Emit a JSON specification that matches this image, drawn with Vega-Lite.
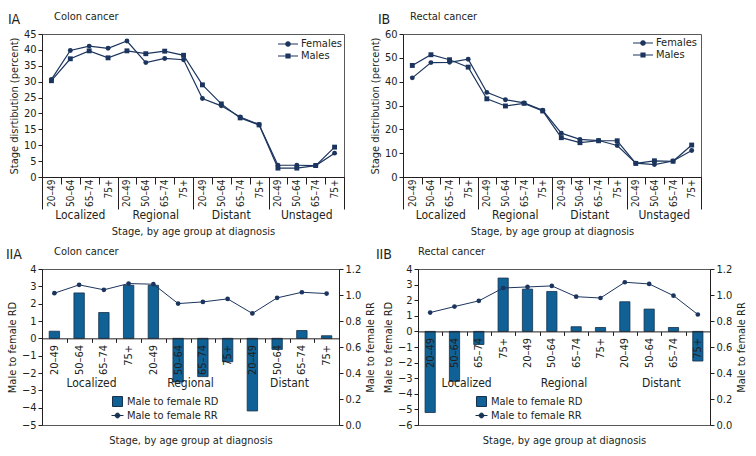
{
  "$schema": "https://vega.github.io/schema/vega-lite/v6.json",
  "padding": {"left": 5, "top": 10, "right": 5, "bottom": 5},
  "background": "white",
  "datasets": {
    "colon": [
      {"stage": "Localized", "cat": "Localized|20–49", "sex": "Females", "pct": 30.7},
      {"stage": "Localized", "cat": "Localized|20–49", "sex": "Males", "pct": 30.3},
      {"stage": "Localized", "cat": "Localized|50–64", "sex": "Females", "pct": 39.8},
      {"stage": "Localized", "cat": "Localized|50–64", "sex": "Males", "pct": 37.2},
      {"stage": "Localized", "cat": "Localized|65–74", "sex": "Females", "pct": 41.2},
      {"stage": "Localized", "cat": "Localized|65–74", "sex": "Males", "pct": 39.7},
      {"stage": "Localized", "cat": "Localized|75+", "sex": "Females", "pct": 40.5},
      {"stage": "Localized", "cat": "Localized|75+", "sex": "Males", "pct": 37.5},
      {"stage": "Regional", "cat": "Regional|20–49", "sex": "Females", "pct": 42.8},
      {"stage": "Regional", "cat": "Regional|20–49", "sex": "Males", "pct": 39.7},
      {"stage": "Regional", "cat": "Regional|50–64", "sex": "Females", "pct": 36.0},
      {"stage": "Regional", "cat": "Regional|50–64", "sex": "Males", "pct": 38.8},
      {"stage": "Regional", "cat": "Regional|65–74", "sex": "Females", "pct": 37.3},
      {"stage": "Regional", "cat": "Regional|65–74", "sex": "Males", "pct": 39.6},
      {"stage": "Regional", "cat": "Regional|75+", "sex": "Females", "pct": 36.9},
      {"stage": "Regional", "cat": "Regional|75+", "sex": "Males", "pct": 38.3},
      {"stage": "Distant", "cat": "Distant|20–49", "sex": "Females", "pct": 24.7},
      {"stage": "Distant", "cat": "Distant|20–49", "sex": "Males", "pct": 29.0},
      {"stage": "Distant", "cat": "Distant|50–64", "sex": "Females", "pct": 22.4},
      {"stage": "Distant", "cat": "Distant|50–64", "sex": "Males", "pct": 23.0},
      {"stage": "Distant", "cat": "Distant|65–74", "sex": "Females", "pct": 18.9},
      {"stage": "Distant", "cat": "Distant|65–74", "sex": "Males", "pct": 18.6},
      {"stage": "Distant", "cat": "Distant|75+", "sex": "Females", "pct": 16.5},
      {"stage": "Distant", "cat": "Distant|75+", "sex": "Males", "pct": 16.4},
      {"stage": "Unstaged", "cat": "Unstaged|20–49", "sex": "Females", "pct": 3.7},
      {"stage": "Unstaged", "cat": "Unstaged|20–49", "sex": "Males", "pct": 2.8},
      {"stage": "Unstaged", "cat": "Unstaged|50–64", "sex": "Females", "pct": 3.7},
      {"stage": "Unstaged", "cat": "Unstaged|50–64", "sex": "Males", "pct": 2.8},
      {"stage": "Unstaged", "cat": "Unstaged|65–74", "sex": "Females", "pct": 3.6},
      {"stage": "Unstaged", "cat": "Unstaged|65–74", "sex": "Males", "pct": 3.6},
      {"stage": "Unstaged", "cat": "Unstaged|75+", "sex": "Females", "pct": 7.5},
      {"stage": "Unstaged", "cat": "Unstaged|75+", "sex": "Males", "pct": 9.4}
    ],
    "rectal": [
      {"stage": "Localized", "cat": "Localized|20–49", "sex": "Females", "pct": 41.6},
      {"stage": "Localized", "cat": "Localized|20–49", "sex": "Males", "pct": 46.8},
      {"stage": "Localized", "cat": "Localized|50–64", "sex": "Females", "pct": 48.0},
      {"stage": "Localized", "cat": "Localized|50–64", "sex": "Males", "pct": 51.3},
      {"stage": "Localized", "cat": "Localized|65–74", "sex": "Females", "pct": 48.1},
      {"stage": "Localized", "cat": "Localized|65–74", "sex": "Males", "pct": 49.2},
      {"stage": "Localized", "cat": "Localized|75+", "sex": "Females", "pct": 49.4},
      {"stage": "Localized", "cat": "Localized|75+", "sex": "Males", "pct": 46.1},
      {"stage": "Regional", "cat": "Regional|20–49", "sex": "Females", "pct": 35.5},
      {"stage": "Regional", "cat": "Regional|20–49", "sex": "Males", "pct": 32.8},
      {"stage": "Regional", "cat": "Regional|50–64", "sex": "Females", "pct": 32.4},
      {"stage": "Regional", "cat": "Regional|50–64", "sex": "Males", "pct": 29.8},
      {"stage": "Regional", "cat": "Regional|65–74", "sex": "Females", "pct": 31.1},
      {"stage": "Regional", "cat": "Regional|65–74", "sex": "Males", "pct": 30.9},
      {"stage": "Regional", "cat": "Regional|75+", "sex": "Females", "pct": 28.0},
      {"stage": "Regional", "cat": "Regional|75+", "sex": "Males", "pct": 27.7},
      {"stage": "Distant", "cat": "Distant|20–49", "sex": "Females", "pct": 18.4},
      {"stage": "Distant", "cat": "Distant|20–49", "sex": "Males", "pct": 16.5},
      {"stage": "Distant", "cat": "Distant|50–64", "sex": "Females", "pct": 15.8},
      {"stage": "Distant", "cat": "Distant|50–64", "sex": "Males", "pct": 14.4},
      {"stage": "Distant", "cat": "Distant|65–74", "sex": "Females", "pct": 15.3},
      {"stage": "Distant", "cat": "Distant|65–74", "sex": "Males", "pct": 15.2},
      {"stage": "Distant", "cat": "Distant|75+", "sex": "Females", "pct": 13.2},
      {"stage": "Distant", "cat": "Distant|75+", "sex": "Males", "pct": 15.2},
      {"stage": "Unstaged", "cat": "Unstaged|20–49", "sex": "Females", "pct": 5.8},
      {"stage": "Unstaged", "cat": "Unstaged|20–49", "sex": "Males", "pct": 5.7},
      {"stage": "Unstaged", "cat": "Unstaged|50–64", "sex": "Females", "pct": 5.2},
      {"stage": "Unstaged", "cat": "Unstaged|50–64", "sex": "Males", "pct": 6.8},
      {"stage": "Unstaged", "cat": "Unstaged|65–74", "sex": "Females", "pct": 6.7},
      {"stage": "Unstaged", "cat": "Unstaged|65–74", "sex": "Males", "pct": 6.6},
      {"stage": "Unstaged", "cat": "Unstaged|75+", "sex": "Females", "pct": 11.1},
      {"stage": "Unstaged", "cat": "Unstaged|75+", "sex": "Males", "pct": 13.4}
    ],
    "colonRR": [
      {"stage": "Localized", "cat": "Localized|20–49", "RD": 0.41, "RR": 1.014},
      {"stage": "Localized", "cat": "Localized|50–64", "RD": 2.62, "RR": 1.078},
      {"stage": "Localized", "cat": "Localized|65–74", "RD": 1.49, "RR": 1.04},
      {"stage": "Localized", "cat": "Localized|75+", "RD": 3.06, "RR": 1.088},
      {"stage": "Regional", "cat": "Regional|20–49", "RD": 3.06, "RR": 1.083},
      {"stage": "Regional", "cat": "Regional|50–64", "RD": -2.52, "RR": 0.934},
      {"stage": "Regional", "cat": "Regional|65–74", "RD": -2.21, "RR": 0.947},
      {"stage": "Regional", "cat": "Regional|75+", "RD": -1.35, "RR": 0.97},
      {"stage": "Distant", "cat": "Distant|20–49", "RD": -4.19, "RR": 0.858},
      {"stage": "Distant", "cat": "Distant|50–64", "RD": -0.64, "RR": 0.978},
      {"stage": "Distant", "cat": "Distant|65–74", "RD": 0.45, "RR": 1.021},
      {"stage": "Distant", "cat": "Distant|75+", "RD": 0.15, "RR": 1.011}
    ],
    "rectalRR": [
      {"stage": "Localized", "cat": "Localized|20–49", "RD": -5.2, "RR": 0.865},
      {"stage": "Localized", "cat": "Localized|50–64", "RD": -3.2, "RR": 0.911},
      {"stage": "Localized", "cat": "Localized|65–74", "RD": -0.84, "RR": 0.955},
      {"stage": "Localized", "cat": "Localized|75+", "RD": 3.42, "RR": 1.054},
      {"stage": "Regional", "cat": "Regional|20–49", "RD": 2.71, "RR": 1.062},
      {"stage": "Regional", "cat": "Regional|50–64", "RD": 2.56, "RR": 1.07},
      {"stage": "Regional", "cat": "Regional|65–74", "RD": 0.3, "RR": 0.987},
      {"stage": "Regional", "cat": "Regional|75+", "RD": 0.25, "RR": 0.977},
      {"stage": "Distant", "cat": "Distant|20–49", "RD": 1.9, "RR": 1.098},
      {"stage": "Distant", "cat": "Distant|50–64", "RD": 1.43, "RR": 1.085},
      {"stage": "Distant", "cat": "Distant|65–74", "RD": 0.25, "RR": 0.995},
      {"stage": "Distant", "cat": "Distant|75+", "RD": -1.9, "RR": 0.85}
    ],
    "rdrrLegend": [
      {"series": "Male to female RD"},
      {"series": "Male to female RR"}
    ]
  },
  "spacing": 8,
  "resolve": {"scale": {"color": "independent", "shape": "independent"}},
  "vconcat": [
    {
      "spacing": 23,
      "resolve": {"scale": {"color": "independent", "shape": "independent"}},
      "hconcat": [
        {
          "title": {"text": "IA", "anchor": "start", "frame": "bounds", "fontSize": 14, "offset": -16, "dx": 0},
          "resolve": {"scale": {"color": "independent", "shape": "independent"}},
          "vconcat": [{
            "width": 302, "height": 143,
            "title": {"text": "Colon cancer", "anchor": "start", "frame": "group", "dx": 12, "fontSize": 11, "offset": 6},
            "data": {"name": "colon"},
            "resolve": {"scale": {"x": "independent", "shape": "independent"}},
            "layer": [
              {"mark": {"type": "line", "color": "#1c355e", "strokeWidth": 1.2},
               "encoding": {
                 "x": {"field": "cat", "type": "nominal", "sort": null, "bandPosition": 0.5, "scale": {"type": "band", "paddingInner": 0, "paddingOuter": 0},
                       "axis": {"orient": "bottom", "title": null, "labelAngle": -90, "labelAlign": "right", "labelBaseline": "middle", "labelFontSize": 10, "tickBand": "extent", "tickSize": 7, "labelPadding": -5, "labelExpr": "split(datum.label, '|')[1]"}},
                 "y": {"field": "pct", "type": "quantitative", "scale": {"domain": [0, 45], "nice": false}, "axis": {"values": [0, 5, 10, 15, 20, 25, 30, 35, 40, 45], "labelOverlap": false, "title": "Stage disrtibution (percent)"}},
                 "detail": {"field": "sex"}
               }},
              {"mark": {"type": "point", "filled": true, "opacity": 1, "color": "#1c355e", "size": 24},
               "encoding": {
                 "x": {"field": "cat", "type": "nominal", "sort": null, "bandPosition": 0.5, "scale": {"type": "band", "paddingInner": 0, "paddingOuter": 0}, "axis": null},
                 "y": {"field": "pct", "type": "quantitative", "scale": {"domain": [0, 45], "nice": false}, "axis": {"values": [0, 5, 10, 15, 20, 25, 30, 35, 40, 45], "labelOverlap": false, "title": "Stage disrtibution (percent)"}},
                 "shape": {"field": "sex", "type": "nominal", "scale": {"domain": ["Females", "Males"], "range": ["circle", "square"]}, "legend": null}
               }},
              {"mark": {"type": "point", "filled": true, "opacity": 0, "fill": "#1c355e", "stroke": "#1c355e", "strokeWidth": 1.2},
               "encoding": {
                 "shape": {"field": "sex", "type": "nominal", "scale": {"domain": ["Females", "Males"], "range": ["M-1.667,0H1.667M0.37,0A0.37,0.37,0,1,1,-0.37,0A0.37,0.37,0,1,1,0.37,0Z", "M-1.667,0H1.667M-0.33,-0.33H0.33V0.33H-0.33Z"]},
                   "legend": {"orient": "none", "legendX": 239, "legendY": 3, "title": null, "symbolSize": 144, "symbolOpacity": 1, "symbolStrokeWidth": 1.2, "labelFontSize": 11, "labelOffset": 6, "rowPadding": 0}}
               }},
              {"mark": {"type": "point", "opacity": 0},
               "encoding": {
                 "x": {"field": "stage", "type": "nominal", "sort": null, "scale": {"type": "band", "paddingInner": 0, "paddingOuter": 0},
                       "axis": {"orient": "bottom", "title": "Stage, by age group at diagnosis", "labelAngle": 0, "labelAlign": "center", "labelBaseline": "top", "tickBand": "extent", "tickSize": 32, "labelPadding": 0, "domain": false, "labelFontSize": 12, "titlePadding": 5}}
               }}
            ]
          }]
        },
        {
          "title": {"text": "IB", "anchor": "start", "frame": "bounds", "fontSize": 14, "offset": -16, "dx": 9},
          "resolve": {"scale": {"color": "independent", "shape": "independent"}},
          "vconcat": [{
            "width": 298, "height": 143,
            "title": {"text": "Rectal cancer", "anchor": "start", "frame": "group", "dx": 7, "fontSize": 11, "offset": 6},
            "data": {"name": "rectal"},
            "resolve": {"scale": {"x": "independent", "shape": "independent"}},
            "layer": [
              {"mark": {"type": "line", "color": "#1c355e", "strokeWidth": 1.2},
               "encoding": {
                 "x": {"field": "cat", "type": "nominal", "sort": null, "bandPosition": 0.5, "scale": {"type": "band", "paddingInner": 0, "paddingOuter": 0},
                       "axis": {"orient": "bottom", "title": null, "labelAngle": -90, "labelAlign": "right", "labelBaseline": "middle", "labelFontSize": 10, "tickBand": "extent", "tickSize": 7, "labelPadding": -5, "labelExpr": "split(datum.label, '|')[1]"}},
                 "y": {"field": "pct", "type": "quantitative", "scale": {"domain": [0, 60], "nice": false}, "axis": {"values": [0, 10, 20, 30, 40, 50, 60], "labelOverlap": false, "title": "Stage distribution (percent)"}},
                 "detail": {"field": "sex"}
               }},
              {"mark": {"type": "point", "filled": true, "opacity": 1, "color": "#1c355e", "size": 24},
               "encoding": {
                 "x": {"field": "cat", "type": "nominal", "sort": null, "bandPosition": 0.5, "scale": {"type": "band", "paddingInner": 0, "paddingOuter": 0}, "axis": null},
                 "y": {"field": "pct", "type": "quantitative", "scale": {"domain": [0, 60], "nice": false}, "axis": {"values": [0, 10, 20, 30, 40, 50, 60], "labelOverlap": false, "title": "Stage distribution (percent)"}},
                 "shape": {"field": "sex", "type": "nominal", "scale": {"domain": ["Females", "Males"], "range": ["circle", "square"]}, "legend": null}
               }},
              {"mark": {"type": "point", "filled": true, "opacity": 0, "fill": "#1c355e", "stroke": "#1c355e", "strokeWidth": 1.2},
               "encoding": {
                 "shape": {"field": "sex", "type": "nominal", "scale": {"domain": ["Females", "Males"], "range": ["M-1.667,0H1.667M0.37,0A0.37,0.37,0,1,1,-0.37,0A0.37,0.37,0,1,1,0.37,0Z", "M-1.667,0H1.667M-0.33,-0.33H0.33V0.33H-0.33Z"]},
                   "legend": {"orient": "none", "legendX": 233, "legendY": 2, "title": null, "symbolSize": 144, "symbolOpacity": 1, "symbolStrokeWidth": 1.2, "labelFontSize": 11, "labelOffset": 6, "rowPadding": 0}}
               }},
              {"mark": {"type": "point", "opacity": 0},
               "encoding": {
                 "x": {"field": "stage", "type": "nominal", "sort": null, "scale": {"type": "band", "paddingInner": 0, "paddingOuter": 0},
                       "axis": {"orient": "bottom", "title": "Stage, by age group at diagnosis", "labelAngle": 0, "labelAlign": "center", "labelBaseline": "top", "tickBand": "extent", "tickSize": 32, "labelPadding": 0, "domain": false, "labelFontSize": 12, "titlePadding": 5}}
               }}
            ]
          }]
        }
      ]
    },
    {
      "spacing": -2,
      "resolve": {"scale": {"color": "independent", "shape": "independent"}},
      "hconcat": [
        {
          "title": {"text": "IIA", "anchor": "start", "frame": "bounds", "fontSize": 14, "offset": -16, "dx": 0},
          "resolve": {"scale": {"color": "independent", "shape": "independent"}},
          "vconcat": [{
            "width": 297, "height": 156,
            "title": {"text": "Colon cancer", "anchor": "start", "frame": "group", "dx": 12, "fontSize": 11, "offset": 6},
            "data": {"name": "colonRR"},
            "resolve": {"scale": {"x": "independent", "y": "independent"}},
            "layer": [
              {"mark": {"type": "bar", "width": {"band": 0.42}, "color": "#0f6196", "stroke": "#15304a", "strokeWidth": 0.8},
               "encoding": {
                 "x": {"field": "cat", "type": "nominal", "sort": null, "scale": {"type": "band", "paddingInner": 0, "paddingOuter": 0},
                       "axis": {"orient": "bottom", "offset": -86.67, "zindex": 1, "title": null, "labelAngle": -90, "labelAlign": "right", "labelBaseline": "middle", "tickBand": "extent", "tickSize": 4, "labelPadding": 2, "labelExpr": "split(datum.label, '|')[1]"}},
                 "y": {"field": "RD", "type": "quantitative", "scale": {"domain": [-5, 4], "nice": false}, "axis": {"orient": "left", "values": [-5, -4, -3, -2, -1, 0, 1, 2, 3, 4], "labelOverlap": false, "title": "Male to female RD"}}
               }},
              {"mark": {"type": "line", "strokeWidth": 1, "color": "#1c355e"},
               "encoding": {
                 "x": {"field": "cat", "type": "nominal", "sort": null, "bandPosition": 0.5, "scale": {"type": "band", "paddingInner": 0, "paddingOuter": 0}, "axis": null},
                 "y": {"field": "RR", "type": "quantitative", "scale": {"domain": [0, 1.2], "nice": false}, "axis": {"orient": "right", "values": [0, 0.2, 0.4, 0.6, 0.8, 1.0, 1.2], "labelOverlap": false, "format": ".1f", "title": "Male to female RR", "titleAngle": 270, "titleBaseline": "top"}}
               }},
              {"mark": {"type": "point", "filled": true, "opacity": 1, "color": "#1c355e", "size": 22},
               "encoding": {
                 "x": {"field": "cat", "type": "nominal", "sort": null, "bandPosition": 0.5, "scale": {"type": "band", "paddingInner": 0, "paddingOuter": 0}, "axis": null},
                 "y": {"field": "RR", "type": "quantitative", "scale": {"domain": [0, 1.2], "nice": false}, "axis": null}
               }},
              {"data": {"name": "rdrrLegend"},
               "mark": {"type": "point", "filled": true, "opacity": 0, "stroke": "#15304a", "strokeWidth": 1},
               "encoding": {
                 "shape": {"field": "series", "type": "nominal", "scale": {"domain": ["Male to female RD", "Male to female RR"], "range": ["M-0.83,-0.83H0.83V0.83H-0.83Z", "M-1,0H1M0.4,0A0.4,0.4,0,1,1,-0.4,0A0.4,0.4,0,1,1,0.4,0Z"]},
                   "legend": {"orient": "none", "legendX": 69, "legendY": 126, "title": null, "symbolSize": 144, "symbolOpacity": 1, "symbolStrokeWidth": 1, "labelFontSize": 11, "labelOffset": 3, "rowPadding": 0}},
                 "color": {"field": "series", "type": "nominal", "scale": {"domain": ["Male to female RD", "Male to female RR"], "range": ["#0f6196", "#1c355e"]},
                   "legend": {"orient": "none", "legendX": 69, "legendY": 126, "title": null, "symbolSize": 144, "symbolOpacity": 1, "symbolStrokeWidth": 1, "labelFontSize": 11, "labelOffset": 3, "rowPadding": 0}}
               }},
              {"mark": {"type": "point", "opacity": 0},
               "encoding": {
                 "x": {"field": "stage", "type": "nominal", "sort": null, "scale": {"type": "band", "paddingInner": 0, "paddingOuter": 0},
                       "axis": {"orient": "bottom", "offset": -86.67, "zindex": 1, "ticks": false, "domain": false, "labelPadding": 39, "labelAngle": 0, "labelAlign": "center", "labelBaseline": "top", "labelFontSize": 12, "title": "Stage, by age group at diagnosis", "titleY": 102, "titleBaseline": "middle"}}
               }}
            ]
          }]
        },
        {
          "title": {"text": "IIB", "anchor": "start", "frame": "bounds", "fontSize": 14, "offset": -16, "dx": -6},
          "resolve": {"scale": {"color": "independent", "shape": "independent"}},
          "vconcat": [{
            "width": 292, "height": 156,
            "title": {"text": "Rectal cancer", "anchor": "start", "frame": "group", "dx": 0, "fontSize": 11, "offset": 6},
            "data": {"name": "rectalRR"},
            "resolve": {"scale": {"x": "independent", "y": "independent"}},
            "layer": [
              {"mark": {"type": "bar", "width": {"band": 0.42}, "color": "#0f6196", "stroke": "#15304a", "strokeWidth": 0.8},
               "encoding": {
                 "x": {"field": "cat", "type": "nominal", "sort": null, "scale": {"type": "band", "paddingInner": 0, "paddingOuter": 0},
                       "axis": {"orient": "bottom", "offset": -93.6, "zindex": 1, "title": null, "labelAngle": -90, "labelAlign": "right", "labelBaseline": "middle", "tickBand": "extent", "tickSize": 4, "labelPadding": 2, "labelExpr": "split(datum.label, '|')[1]"}},
                 "y": {"field": "RD", "type": "quantitative", "scale": {"domain": [-6, 4], "nice": false}, "axis": {"orient": "left", "values": [-6, -5, -4, -3, -2, -1, 0, 1, 2, 3, 4], "labelOverlap": false, "title": "Male to female RD"}}
               }},
              {"mark": {"type": "line", "strokeWidth": 1, "color": "#1c355e"},
               "encoding": {
                 "x": {"field": "cat", "type": "nominal", "sort": null, "bandPosition": 0.5, "scale": {"type": "band", "paddingInner": 0, "paddingOuter": 0}, "axis": null},
                 "y": {"field": "RR", "type": "quantitative", "scale": {"domain": [0, 1.2], "nice": false}, "axis": {"orient": "right", "values": [0, 0.2, 0.4, 0.6, 0.8, 1.0, 1.2], "labelOverlap": false, "format": ".1f", "title": "Male to female RR", "titleAngle": 270, "titleBaseline": "top"}}
               }},
              {"mark": {"type": "point", "filled": true, "opacity": 1, "color": "#1c355e", "size": 22},
               "encoding": {
                 "x": {"field": "cat", "type": "nominal", "sort": null, "bandPosition": 0.5, "scale": {"type": "band", "paddingInner": 0, "paddingOuter": 0}, "axis": null},
                 "y": {"field": "RR", "type": "quantitative", "scale": {"domain": [0, 1.2], "nice": false}, "axis": null}
               }},
              {"data": {"name": "rdrrLegend"},
               "mark": {"type": "point", "filled": true, "opacity": 0, "stroke": "#15304a", "strokeWidth": 1},
               "encoding": {
                 "shape": {"field": "series", "type": "nominal", "scale": {"domain": ["Male to female RD", "Male to female RR"], "range": ["M-0.83,-0.83H0.83V0.83H-0.83Z", "M-1,0H1M0.4,0A0.4,0.4,0,1,1,-0.4,0A0.4,0.4,0,1,1,0.4,0Z"]},
                   "legend": {"orient": "none", "legendX": 57, "legendY": 126, "title": null, "symbolSize": 144, "symbolOpacity": 1, "symbolStrokeWidth": 1, "labelFontSize": 11, "labelOffset": 3, "rowPadding": 0}},
                 "color": {"field": "series", "type": "nominal", "scale": {"domain": ["Male to female RD", "Male to female RR"], "range": ["#0f6196", "#1c355e"]},
                   "legend": {"orient": "none", "legendX": 57, "legendY": 126, "title": null, "symbolSize": 144, "symbolOpacity": 1, "symbolStrokeWidth": 1, "labelFontSize": 11, "labelOffset": 3, "rowPadding": 0}}
               }},
              {"mark": {"type": "point", "opacity": 0},
               "encoding": {
                 "x": {"field": "stage", "type": "nominal", "sort": null, "scale": {"type": "band", "paddingInner": 0, "paddingOuter": 0},
                       "axis": {"orient": "bottom", "offset": -93.6, "zindex": 1, "ticks": false, "domain": false, "labelPadding": 46, "labelAngle": 0, "labelAlign": "center", "labelBaseline": "top", "labelFontSize": 12, "title": "Stage, by age group at diagnosis", "titleY": 108.6, "titleBaseline": "middle"}}
               }}
            ]
          }]
        }
      ]
    }
  ],
  "config": {
    "font": "DejaVu Sans Condensed, sans-serif",
    "view": {"stroke": "#58595b", "strokeWidth": 1},
    "axis": {"labelFontSize": 11, "labelColor": "#231f20", "titleFontSize": 11, "titleFontWeight": "normal", "titleColor": "#231f20", "domainColor": "#231f20", "tickColor": "#231f20", "grid": false, "tickSize": 4, "labelPadding": 2, "titlePadding": 4},
    "legend": {"labelFontSize": 11, "labelColor": "#231f20"},
    "title": {"fontWeight": "normal", "color": "#231f20"}
  }
}
